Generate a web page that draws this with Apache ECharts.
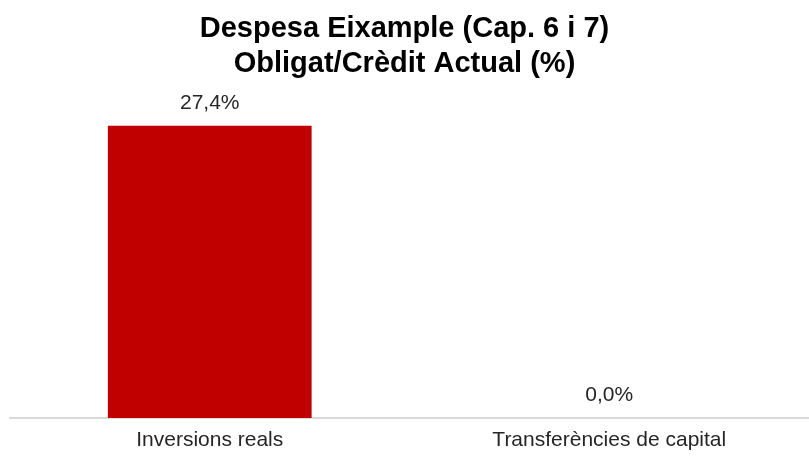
<!DOCTYPE html>
<html>
<head>
<meta charset="utf-8">
<script src="https://cdn.jsdelivr.net/npm/echarts@6/dist/echarts.min.js"></script>
<style>
  html, body { margin: 0; padding: 0; background: #fff; }
  #chart { width: 809px; height: 457px; }
</style>
</head>
<body>
<div id="chart"></div>
<script>
const categories = ['Inversions reals', 'Transferències de capital'];
const values = [27.4, 0.0];
const titleLines = ['Despesa Eixample (Cap. 6 i 7)', 'Obligat/Crèdit Actual (%)'];

const chart = echarts.init(document.getElementById('chart'));

const option = {
  animation: false,
  title: {
    text: titleLines.join('\n'),
    left: 'center',
    top: 6,
    textStyle: {
      fontFamily: 'Liberation Sans, Arial, sans-serif',
      fontSize: 29,
      fontWeight: 'bold',
      color: '#000',
      lineHeight: 35
    }
  },
  grid: {
    left: 10,
    right: 0,
    top: 98,
    bottom: 39
  },
  xAxis: {
    type: 'category',
    data: categories,
    axisLine: { lineStyle: { color: '#d9d9d9', width: 2 } },
    axisTick: { show: false },
    axisLabel: {
      fontFamily: 'Liberation Sans, Arial, sans-serif',
      fontSize: 21,
      color: '#262626',
      margin: 12
    }
  },
  yAxis: {
    type: 'value',
    min: 0,
    max: 30,
    show: false
  },
  series: [{
    type: 'bar',
    data: values,
    barWidth: '51%',
    itemStyle: { color: '#C00000' },
    label: {
      show: true,
      position: 'top',
      distance: 12,
      fontFamily: 'Liberation Sans, Arial, sans-serif',
      fontSize: 21,
      color: '#262626',
      formatter: (p) => p.value.toFixed(1).replace('.', ',') + '%'
    }
  }]
};

chart.setOption(option);
</script>
</body>
</html>
